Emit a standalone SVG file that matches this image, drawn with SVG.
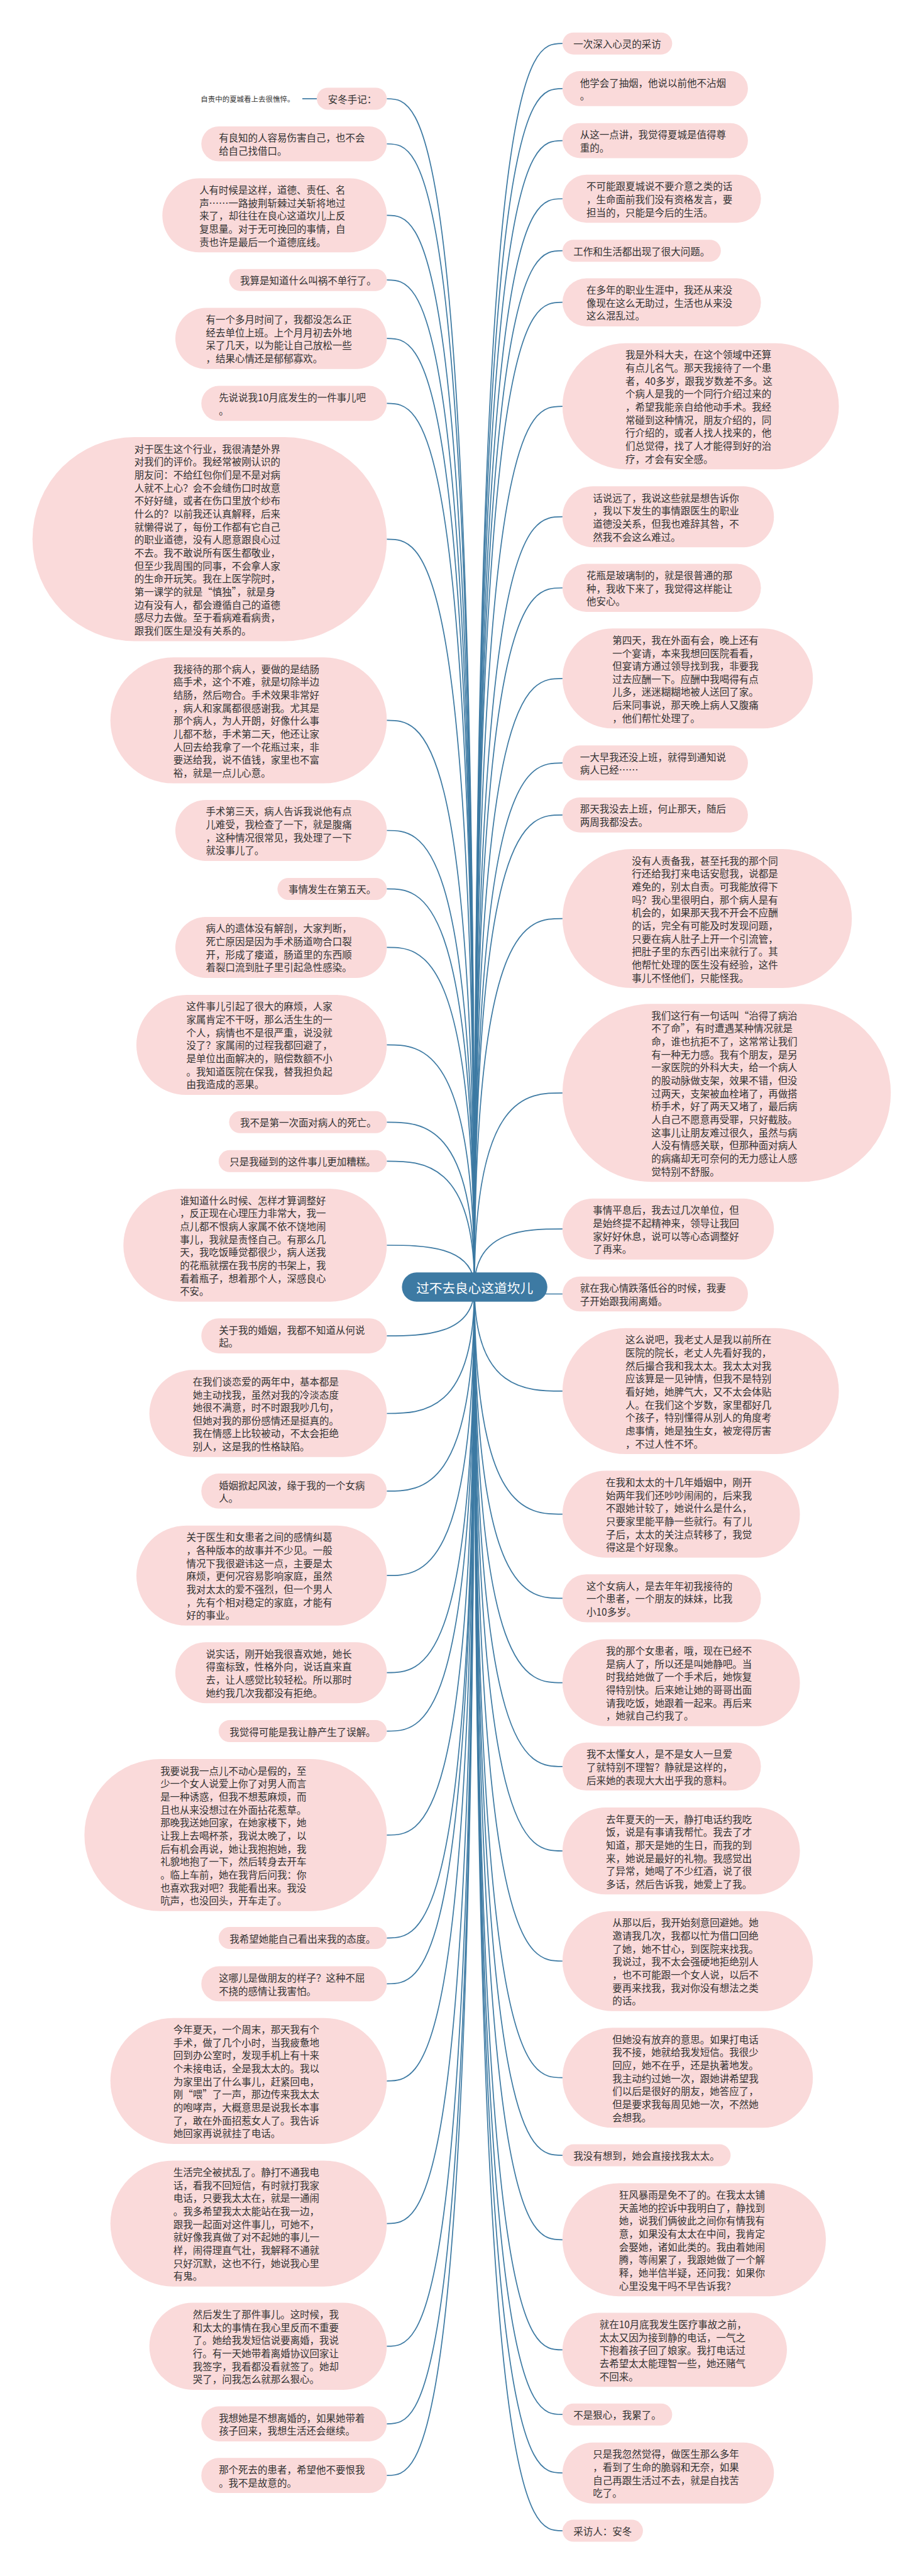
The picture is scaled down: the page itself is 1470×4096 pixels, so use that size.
<svg xmlns="http://www.w3.org/2000/svg" width="1470" height="4096" viewBox="0 0 1470 4096">
<style>
.n{fill:#fadada}
.t{font-family:"Noto Sans CJK SC","Noto Sans",sans-serif;font-size:27px;fill:#333;dominant-baseline:central}
.s{font-family:"Noto Sans CJK SC","Noto Sans",sans-serif;font-size:20px;fill:#333;dominant-baseline:central}
.c{fill:none;stroke:#3d7aa3;stroke-width:3}
.ct{font-family:"Noto Sans CJK SC","Noto Sans",sans-serif;font-size:36px;fill:#fff;dominant-baseline:central}
</style>
<rect width="1470" height="4096" fill="#fff"/>
<g transform="scale(0.574)">
<g id="connectors">
<path class="c" d="M838 273.5H878"/>
<path class="c" d="M1072 273.5C1169 273.5 1315 273.5 1315 3566"/>
<path class="c" d="M1072 398.5C1169 398.5 1315 398.5 1315 3566"/>
<path class="c" d="M1072 596.5C1169 596.5 1315 596.5 1315 3566"/>
<path class="c" d="M1072 775.5C1169 775.5 1315 775.5 1315 3566"/>
<path class="c" d="M1072 937.5C1169 937.5 1315 937.5 1315 3566"/>
<path class="c" d="M1072 1117.5C1169 1117.5 1315 1117.5 1315 3566"/>
<path class="c" d="M1072 1493.5C1169 1493.5 1315 1493.5 1315 3566"/>
<path class="c" d="M1072 1995.5C1169 1995.5 1315 1995.5 1315 3566"/>
<path class="c" d="M1072 2300.5C1169 2300.5 1315 2300.5 1315 3566"/>
<path class="c" d="M1072 2462.5C1169 2462.5 1315 2462.5 1315 3566"/>
<path class="c" d="M1072 2624.5C1169 2624.5 1315 2624.5 1315 3566"/>
<path class="c" d="M1072 2894.5C1169 2894.5 1315 2894.5 1315 3566"/>
<path class="c" d="M1072 3108.5C1169 3108.5 1315 3108.5 1315 3566"/>
<path class="c" d="M1072 3216.5C1169 3216.5 1315 3216.5 1315 3566"/>
<path class="c" d="M1072 3449.5C1169 3449.5 1315 3449.5 1315 3566"/>
<path class="c" d="M1072 3700.5C1169 3700.5 1315 3700.5 1315 3566"/>
<path class="c" d="M1072 3915.5C1169 3915.5 1315 3915.5 1315 3566"/>
<path class="c" d="M1072 4130.5C1169 4130.5 1315 4130.5 1315 3566"/>
<path class="c" d="M1072 4364.5C1169 4364.5 1315 4364.5 1315 3566"/>
<path class="c" d="M1072 4633.5C1169 4633.5 1315 4633.5 1315 3566"/>
<path class="c" d="M1072 4795.5C1169 4795.5 1315 4795.5 1315 3566"/>
<path class="c" d="M1072 5083.5C1169 5083.5 1315 5083.5 1315 3566"/>
<path class="c" d="M1072 5368.5C1169 5368.5 1315 5368.5 1315 3566"/>
<path class="c" d="M1072 5495.5C1169 5495.5 1315 5495.5 1315 3566"/>
<path class="c" d="M1072 5764.5C1169 5764.5 1315 5764.5 1315 3566"/>
<path class="c" d="M1072 6159.5C1169 6159.5 1315 6159.5 1315 3566"/>
<path class="c" d="M1072 6499.5C1169 6499.5 1315 6499.5 1315 3566"/>
<path class="c" d="M1072 6714.5C1169 6714.5 1315 6714.5 1315 3566"/>
<path class="c" d="M1072 6857.5C1169 6857.5 1315 6857.5 1315 3566"/>
<path class="c" d="M1559 120.5C1461 120.5 1315 120.5 1315 3566"/>
<path class="c" d="M1559 245.5C1461 245.5 1315 245.5 1315 3566"/>
<path class="c" d="M1559 389.5C1461 389.5 1315 389.5 1315 3566"/>
<path class="c" d="M1559 550.5C1461 550.5 1315 550.5 1315 3566"/>
<path class="c" d="M1559 694.5C1461 694.5 1315 694.5 1315 3566"/>
<path class="c" d="M1559 837.5C1461 837.5 1315 837.5 1315 3566"/>
<path class="c" d="M1559 1125.5C1461 1125.5 1315 1125.5 1315 3566"/>
<path class="c" d="M1559 1431.5C1461 1431.5 1315 1431.5 1315 3566"/>
<path class="c" d="M1559 1628.5C1461 1628.5 1315 1628.5 1315 3566"/>
<path class="c" d="M1559 1879.5C1461 1879.5 1315 1879.5 1315 3566"/>
<path class="c" d="M1559 2113.5C1461 2113.5 1315 2113.5 1315 3566"/>
<path class="c" d="M1559 2257.5C1461 2257.5 1315 2257.5 1315 3566"/>
<path class="c" d="M1559 2544.5C1461 2544.5 1315 2544.5 1315 3566"/>
<path class="c" d="M1559 3027.5C1461 3027.5 1315 3027.5 1315 3566"/>
<path class="c" d="M1559 3404.5C1461 3404.5 1315 3404.5 1315 3566"/>
<path class="c" d="M1559 3584.5H1315"/>
<path class="c" d="M1559 3853.5C1461 3853.5 1315 3853.5 1315 3566"/>
<path class="c" d="M1559 4194.5C1461 4194.5 1315 4194.5 1315 3566"/>
<path class="c" d="M1559 4427.5C1461 4427.5 1315 4427.5 1315 3566"/>
<path class="c" d="M1559 4661.5C1461 4661.5 1315 4661.5 1315 3566"/>
<path class="c" d="M1559 4893.5C1461 4893.5 1315 4893.5 1315 3566"/>
<path class="c" d="M1559 5127.5C1461 5127.5 1315 5127.5 1315 3566"/>
<path class="c" d="M1559 5432.5C1461 5432.5 1315 5432.5 1315 3566"/>
<path class="c" d="M1559 5755.5C1461 5755.5 1315 5755.5 1315 3566"/>
<path class="c" d="M1559 5970.5C1461 5970.5 1315 5970.5 1315 3566"/>
<path class="c" d="M1559 6204.5C1461 6204.5 1315 6204.5 1315 3566"/>
<path class="c" d="M1559 6509.5C1461 6509.5 1315 6509.5 1315 3566"/>
<path class="c" d="M1559 6688.5C1461 6688.5 1315 6688.5 1315 3566"/>
<path class="c" d="M1559 6850.5C1461 6850.5 1315 6850.5 1315 3566"/>
<path class="c" d="M1559 7010.5C1461 7010.5 1315 7010.5 1315 3566"/>
</g>

<g id="center"><rect x="1114" y="3525" width="403" height="81" rx="40.5" fill="#3d7aa3"/><text class="ct" x="1315.5" y="3566" text-anchor="middle">过不去良心这道坎儿</text></g>

<g id="L0b"><text class="s" x="816" y="273.5" text-anchor="end">自责中的夏城看上去很憔悴。</text></g>
<g id="L0"><rect class="n" x="878" y="243" width="194" height="61" rx="30.5"/><text class="t" x="909" y="273.5">安冬手记：</text></g>
<g id="L1"><rect class="n" x="558" y="350" width="514" height="97" rx="48.5"/><text class="t" y="380.5"><tspan x="606.5">有良知的人容易伤害自己，也不会</tspan><tspan x="606.5" dy="36">给自己找借口。</tspan></text></g>
<g id="L2"><rect class="n" x="450" y="494" width="622" height="205" rx="102.5"/><text class="t" y="524.5"><tspan x="552.5">人有时候是这样，道德、责任、名</tspan><tspan x="552.5" dy="36">声……一路披荆斩棘过关斩将地过</tspan><tspan x="552.5" dy="36">来了，却往往在良心这道坎儿上反</tspan><tspan x="552.5" dy="36">复思量。对于无可挽回的事情，自</tspan><tspan x="552.5" dy="36">责也许是最后一个道德底线。</tspan></text></g>
<g id="L3"><rect class="n" x="635" y="745" width="437" height="61" rx="30.5"/><text class="t" x="665.5" y="775.5">我算是知道什么叫祸不单行了。</text></g>
<g id="L4"><rect class="n" x="486" y="853" width="586" height="169" rx="84.5"/><text class="t" y="883.5"><tspan x="570.5">有一个多月时间了，我都没怎么正</tspan><tspan x="570.5" dy="36">经去单位上班。上个月月初去外地</tspan><tspan x="570.5" dy="36">呆了几天，以为能让自己放松一些</tspan><tspan x="570.5" dy="36">，结果心情还是郁郁寡欢。</tspan></text></g>
<g id="L5"><rect class="n" x="558" y="1069" width="514" height="97" rx="48.5"/><text class="t" y="1099.5"><tspan x="606.5">先说说我10月底发生的一件事儿吧</tspan><tspan x="606.5" dy="36">。</tspan></text></g>
<g id="L6"><rect class="n" x="90" y="1211" width="982" height="565" rx="282.5"/><text class="t" y="1241.5"><tspan x="372.5">对于医生这个行业，我很清楚外界</tspan><tspan x="372.5" dy="36">对我们的评价。我经常被刚认识的</tspan><tspan x="372.5" dy="36">朋友问：不给红包你们是不是对病</tspan><tspan x="372.5" dy="36">人就不上心？会不会缝伤口时故意</tspan><tspan x="372.5" dy="36">不好好缝，或者在伤口里放个纱布</tspan><tspan x="372.5" dy="36">什么的？以前我还认真解释，后来</tspan><tspan x="372.5" dy="36">就懒得说了，每份工作都有它自己</tspan><tspan x="372.5" dy="36">的职业道德，没有人愿意跟良心过</tspan><tspan x="372.5" dy="36">不去。我不敢说所有医生都敬业，</tspan><tspan x="372.5" dy="36">但至少我周围的同事，不会拿人家</tspan><tspan x="372.5" dy="36">的生命开玩笑。我在上医学院时，</tspan><tspan x="372.5" dy="36">第一课学的就是“慎独”，就是身</tspan><tspan x="372.5" dy="36">边有没有人，都会遵循自己的道德</tspan><tspan x="372.5" dy="36">感尽力去做。至于看病难看病贵，</tspan><tspan x="372.5" dy="36">跟我们医生是没有关系的。</tspan></text></g>
<g id="L7"><rect class="n" x="306" y="1821" width="766" height="349" rx="174.5"/><text class="t" y="1851.5"><tspan x="480.5">我接待的那个病人，要做的是结肠</tspan><tspan x="480.5" dy="36">癌手术，这个不难，就是切除半边</tspan><tspan x="480.5" dy="36">结肠，然后吻合。手术效果非常好</tspan><tspan x="480.5" dy="36">，病人和家属都很感谢我。尤其是</tspan><tspan x="480.5" dy="36">那个病人，为人开朗，好像什么事</tspan><tspan x="480.5" dy="36">儿都不愁，手术第二天，他还让家</tspan><tspan x="480.5" dy="36">人回去给我拿了一个花瓶过来，非</tspan><tspan x="480.5" dy="36">要送给我，说不值钱，家里也不富</tspan><tspan x="480.5" dy="36">裕，就是一点儿心意。</tspan></text></g>
<g id="L8"><rect class="n" x="486" y="2216" width="586" height="169" rx="84.5"/><text class="t" y="2246.5"><tspan x="570.5">手术第三天，病人告诉我说他有点</tspan><tspan x="570.5" dy="36">儿难受，我检查了一下，就是腹痛</tspan><tspan x="570.5" dy="36">，这种情况很常见，我处理了一下</tspan><tspan x="570.5" dy="36">就没事儿了。</tspan></text></g>
<g id="L9"><rect class="n" x="769" y="2432" width="303" height="61" rx="30.5"/><text class="t" x="799.5" y="2462.5">事情发生在第五天。</text></g>
<g id="L10"><rect class="n" x="486" y="2540" width="586" height="169" rx="84.5"/><text class="t" y="2570.5"><tspan x="570.5">病人的遗体没有解剖，大家判断，</tspan><tspan x="570.5" dy="36">死亡原因是因为手术肠道吻合口裂</tspan><tspan x="570.5" dy="36">开，形成了瘘道，肠道里的东西顺</tspan><tspan x="570.5" dy="36">着裂口流到肚子里引起急性感染。</tspan></text></g>
<g id="L11"><rect class="n" x="378" y="2756" width="694" height="277" rx="138.5"/><text class="t" y="2786.5"><tspan x="516.5">这件事儿引起了很大的麻烦，人家</tspan><tspan x="516.5" dy="36">家属肯定不干呀，那么活生生的一</tspan><tspan x="516.5" dy="36">个人，病情也不是很严重，说没就</tspan><tspan x="516.5" dy="36">没了？家属闹的过程我都回避了，</tspan><tspan x="516.5" dy="36">是单位出面解决的，赔偿数额不小</tspan><tspan x="516.5" dy="36">。我知道医院在保我，替我担负起</tspan><tspan x="516.5" dy="36">由我造成的恶果。</tspan></text></g>
<g id="L12"><rect class="n" x="635" y="3078" width="437" height="61" rx="30.5"/><text class="t" x="665.5" y="3108.5">我不是第一次面对病人的死亡。</text></g>
<g id="L13"><rect class="n" x="606" y="3186" width="466" height="61" rx="30.5"/><text class="t" x="636.5" y="3216.5">只是我碰到的这件事儿更加糟糕。</text></g>
<g id="L14"><rect class="n" x="342" y="3293" width="730" height="313" rx="156.5"/><text class="t" y="3323.5"><tspan x="498.5">谁知道什么时候、怎样才算调整好</tspan><tspan x="498.5" dy="36">，反正现在心理压力非常大，我一</tspan><tspan x="498.5" dy="36">点儿都不恨病人家属不依不饶地闹</tspan><tspan x="498.5" dy="36">事儿，我就是责怪自己。有那么几</tspan><tspan x="498.5" dy="36">天，我吃饭睡觉都很少，病人送我</tspan><tspan x="498.5" dy="36">的花瓶就摆在我书房的书架上，我</tspan><tspan x="498.5" dy="36">看着瓶子，想着那个人，深感良心</tspan><tspan x="498.5" dy="36">不安。</tspan></text></g>
<g id="L15"><rect class="n" x="558" y="3652" width="514" height="97" rx="48.5"/><text class="t" y="3682.5"><tspan x="606.5">关于我的婚姻，我都不知道从何说</tspan><tspan x="606.5" dy="36">起。</tspan></text></g>
<g id="L16"><rect class="n" x="414" y="3795" width="658" height="241" rx="120.5"/><text class="t" y="3825.5"><tspan x="534.5">在我们谈恋爱的两年中，基本都是</tspan><tspan x="534.5" dy="36">她主动找我，虽然对我的冷淡态度</tspan><tspan x="534.5" dy="36">她很不满意，时不时跟我吵几句，</tspan><tspan x="534.5" dy="36">但她对我的那份感情还是挺真的。</tspan><tspan x="534.5" dy="36">我在情感上比较被动，不太会拒绝</tspan><tspan x="534.5" dy="36">别人，这是我的性格缺陷。</tspan></text></g>
<g id="L17"><rect class="n" x="558" y="4082" width="514" height="97" rx="48.5"/><text class="t" y="4112.5"><tspan x="606.5">婚姻掀起风波，缘于我的一个女病</tspan><tspan x="606.5" dy="36">人。</tspan></text></g>
<g id="L18"><rect class="n" x="378" y="4226" width="694" height="277" rx="138.5"/><text class="t" y="4256.5"><tspan x="516.5">关于医生和女患者之间的感情纠葛</tspan><tspan x="516.5" dy="36">，各种版本的故事并不少见。一般</tspan><tspan x="516.5" dy="36">情况下我很避讳这一点，主要是太</tspan><tspan x="516.5" dy="36">麻烦，更何况容易影响家庭，虽然</tspan><tspan x="516.5" dy="36">我对太太的爱不强烈，但一个男人</tspan><tspan x="516.5" dy="36">，先有个相对稳定的家庭，才能有</tspan><tspan x="516.5" dy="36">好的事业。</tspan></text></g>
<g id="L19"><rect class="n" x="486" y="4549" width="586" height="169" rx="84.5"/><text class="t" y="4579.5"><tspan x="570.5">说实话，刚开始我很喜欢她，她长</tspan><tspan x="570.5" dy="36">得蛮标致，性格外向，说话直来直</tspan><tspan x="570.5" dy="36">去，让人感觉比较轻松。所以那时</tspan><tspan x="570.5" dy="36">她约我几次我都没有拒绝。</tspan></text></g>
<g id="L20"><rect class="n" x="606" y="4765" width="466" height="61" rx="30.5"/><text class="t" x="636.5" y="4795.5">我觉得可能是我让静产生了误解。</text></g>
<g id="L21"><rect class="n" x="234" y="4873" width="838" height="421" rx="210.5"/><text class="t" y="4903.5"><tspan x="444.5">我要说我一点儿不动心是假的，至</tspan><tspan x="444.5" dy="36">少一个女人说爱上你了对男人而言</tspan><tspan x="444.5" dy="36">是一种诱惑，但我不想惹麻烦，而</tspan><tspan x="444.5" dy="36">且也从来没想过在外面拈花惹草。</tspan><tspan x="444.5" dy="36">那晚我送她回家，在她家楼下，她</tspan><tspan x="444.5" dy="36">让我上去喝杯茶，我说太晚了，以</tspan><tspan x="444.5" dy="36">后有机会再说，她让我抱抱她，我</tspan><tspan x="444.5" dy="36">礼貌地抱了一下，然后转身去开车</tspan><tspan x="444.5" dy="36">。临上车前，她在我背后问我：你</tspan><tspan x="444.5" dy="36">也喜欢我对吧？我能看出来。我没</tspan><tspan x="444.5" dy="36">吭声，也没回头，开车走了。</tspan></text></g>
<g id="L22"><rect class="n" x="606" y="5338" width="466" height="61" rx="30.5"/><text class="t" x="636.5" y="5368.5">我希望她能自己看出来我的态度。</text></g>
<g id="L23"><rect class="n" x="558" y="5447" width="514" height="97" rx="48.5"/><text class="t" y="5477.5"><tspan x="606.5">这哪儿是做朋友的样子？这种不屈</tspan><tspan x="606.5" dy="36">不挠的感情让我害怕。</tspan></text></g>
<g id="L24"><rect class="n" x="306" y="5590" width="766" height="349" rx="174.5"/><text class="t" y="5620.5"><tspan x="480.5">今年夏天，一个周末，那天我有个</tspan><tspan x="480.5" dy="36">手术，做了几个小时，当我疲惫地</tspan><tspan x="480.5" dy="36">回到办公室时，发现手机上有十来</tspan><tspan x="480.5" dy="36">个未接电话，全是我太太的。我以</tspan><tspan x="480.5" dy="36">为家里出了什么事儿，赶紧回电，</tspan><tspan x="480.5" dy="36">刚“喂”了一声，那边传来我太太</tspan><tspan x="480.5" dy="36">的咆哮声，大概意思是说我长本事</tspan><tspan x="480.5" dy="36">了，敢在外面招惹女人了。我告诉</tspan><tspan x="480.5" dy="36">她回家再说就挂了电话。</tspan></text></g>
<g id="L25"><rect class="n" x="306" y="5985" width="766" height="349" rx="174.5"/><text class="t" y="6015.5"><tspan x="480.5">生活完全被扰乱了。静打不通我电</tspan><tspan x="480.5" dy="36">话，看我不回短信，有时就打我家</tspan><tspan x="480.5" dy="36">电话，只要我太太在，就是一通闹</tspan><tspan x="480.5" dy="36">。我多希望我太太能站在我一边，</tspan><tspan x="480.5" dy="36">跟我一起面对这件事儿，可她不，</tspan><tspan x="480.5" dy="36">就好像我真做了对不起她的事儿一</tspan><tspan x="480.5" dy="36">样，闹得理直气壮，我解释不通就</tspan><tspan x="480.5" dy="36">只好沉默，这也不行，她说我心里</tspan><tspan x="480.5" dy="36">有鬼。</tspan></text></g>
<g id="L26"><rect class="n" x="414" y="6379" width="658" height="241" rx="120.5"/><text class="t" y="6409.5"><tspan x="534.5">然后发生了那件事儿。这时候，我</tspan><tspan x="534.5" dy="36">和太太的事情在我心里反而不重要</tspan><tspan x="534.5" dy="36">了。她给我发短信说要离婚，我说</tspan><tspan x="534.5" dy="36">行。有一天她带着离婚协议回家让</tspan><tspan x="534.5" dy="36">我签字，我看都没看就签了。她却</tspan><tspan x="534.5" dy="36">哭了，问我怎么就那么狠心。</tspan></text></g>
<g id="L27"><rect class="n" x="558" y="6666" width="514" height="97" rx="48.5"/><text class="t" y="6696.5"><tspan x="606.5">我想她是不想离婚的，如果她带着</tspan><tspan x="606.5" dy="36">孩子回来，我想生活还会继续。</tspan></text></g>
<g id="L28"><rect class="n" x="558" y="6809" width="514" height="97" rx="48.5"/><text class="t" y="6839.5"><tspan x="606.5">那个死去的患者，希望他不要恨我</tspan><tspan x="606.5" dy="36">。我不是故意的。</tspan></text></g>

<g id="R1"><rect class="n" x="1559" y="90" width="304" height="61" rx="30.5"/><text class="t" x="1589.5" y="120.5">一次深入心灵的采访</text></g>
<g id="R2"><rect class="n" x="1559" y="197" width="514" height="97" rx="48.5"/><text class="t" y="227.5"><tspan x="1607.5">他学会了抽烟，他说以前他不沾烟</tspan><tspan x="1607.5" dy="36">。</tspan></text></g>
<g id="R3"><rect class="n" x="1559" y="341" width="514" height="97" rx="48.5"/><text class="t" y="371.5"><tspan x="1607.5">从这一点讲，我觉得夏城是值得尊</tspan><tspan x="1607.5" dy="36">重的。</tspan></text></g>
<g id="R4"><rect class="n" x="1559" y="484" width="550" height="133" rx="66.5"/><text class="t" y="514.5"><tspan x="1625.5">不可能跟夏城说不要介意之类的话</tspan><tspan x="1625.5" dy="36">，生命面前我们没有资格发言，要</tspan><tspan x="1625.5" dy="36">担当的，只能是今后的生活。</tspan></text></g>
<g id="R5"><rect class="n" x="1559" y="664" width="439" height="61" rx="30.5"/><text class="t" x="1589.5" y="694.5">工作和生活都出现了很大问题。</text></g>
<g id="R6"><rect class="n" x="1559" y="771" width="550" height="133" rx="66.5"/><text class="t" y="801.5"><tspan x="1625.5">在多年的职业生涯中，我还从来没</tspan><tspan x="1625.5" dy="36">像现在这么无助过，生活也从来没</tspan><tspan x="1625.5" dy="36">这么混乱过。</tspan></text></g>
<g id="R7"><rect class="n" x="1559" y="951" width="766" height="349" rx="174.5"/><text class="t" y="981.5"><tspan x="1733.5">我是外科大夫，在这个领域中还算</tspan><tspan x="1733.5" dy="36">有点儿名气。那天我接待了一个患</tspan><tspan x="1733.5" dy="36">者，40多岁，跟我岁数差不多。这</tspan><tspan x="1733.5" dy="36">个病人是我的一个同行介绍过来的</tspan><tspan x="1733.5" dy="36">，希望我能亲自给他动手术。我经</tspan><tspan x="1733.5" dy="36">常碰到这种情况，朋友介绍的，同</tspan><tspan x="1733.5" dy="36">行介绍的，或者人找人找来的，他</tspan><tspan x="1733.5" dy="36">们总觉得，找了人才能得到好的治</tspan><tspan x="1733.5" dy="36">疗，才会有安全感。</tspan></text></g>
<g id="R8"><rect class="n" x="1559" y="1347" width="586" height="169" rx="84.5"/><text class="t" y="1377.5"><tspan x="1643.5">话说远了，我说这些就是想告诉你</tspan><tspan x="1643.5" dy="36">，我以下发生的事情跟医生的职业</tspan><tspan x="1643.5" dy="36">道德没关系，但我也难辞其咎，不</tspan><tspan x="1643.5" dy="36">然我不会这么难过。</tspan></text></g>
<g id="R9"><rect class="n" x="1559" y="1562" width="550" height="133" rx="66.5"/><text class="t" y="1592.5"><tspan x="1625.5">花瓶是玻璃制的，就是很普通的那</tspan><tspan x="1625.5" dy="36">种，我收下来了，我觉得这样能让</tspan><tspan x="1625.5" dy="36">他安心。</tspan></text></g>
<g id="R10"><rect class="n" x="1559" y="1741" width="694" height="277" rx="138.5"/><text class="t" y="1771.5"><tspan x="1697.5">第四天，我在外面有会，晚上还有</tspan><tspan x="1697.5" dy="36">一个宴请，本来我想回医院看看，</tspan><tspan x="1697.5" dy="36">但宴请方通过领导找到我，非要我</tspan><tspan x="1697.5" dy="36">过去应酬一下。应酬中我喝得有点</tspan><tspan x="1697.5" dy="36">儿多，迷迷糊糊地被人送回了家。</tspan><tspan x="1697.5" dy="36">后来同事说，那天晚上病人又腹痛</tspan><tspan x="1697.5" dy="36">，他们帮忙处理了。</tspan></text></g>
<g id="R11"><rect class="n" x="1559" y="2065" width="514" height="97" rx="48.5"/><text class="t" y="2095.5"><tspan x="1607.5">一大早我还没上班，就得到通知说</tspan><tspan x="1607.5" dy="36">病人已经……</tspan></text></g>
<g id="R12"><rect class="n" x="1559" y="2209" width="514" height="97" rx="48.5"/><text class="t" y="2239.5"><tspan x="1607.5">那天我没去上班，何止那天，随后</tspan><tspan x="1607.5" dy="36">两周我都没去。</tspan></text></g>
<g id="R13"><rect class="n" x="1559" y="2352" width="802" height="385" rx="192.5"/><text class="t" y="2382.5"><tspan x="1751.5">没有人责备我，甚至托我的那个同</tspan><tspan x="1751.5" dy="36">行还给我打来电话安慰我，说都是</tspan><tspan x="1751.5" dy="36">难免的，别太自责。可我能放得下</tspan><tspan x="1751.5" dy="36">吗？我心里很明白，那个病人是有</tspan><tspan x="1751.5" dy="36">机会的，如果那天我不开会不应酬</tspan><tspan x="1751.5" dy="36">的话，完全有可能及时发现问题，</tspan><tspan x="1751.5" dy="36">只要在病人肚子上开一个引流管，</tspan><tspan x="1751.5" dy="36">把肚子里的东西引出来就行了。其</tspan><tspan x="1751.5" dy="36">他帮忙处理的医生没有经验，这件</tspan><tspan x="1751.5" dy="36">事儿不怪他们，只能怪我。</tspan></text></g>
<g id="R14"><rect class="n" x="1559" y="2781" width="910" height="493" rx="246.5"/><text class="t" y="2811.5"><tspan x="1805.5">我们这行有一句话叫“治得了病治</tspan><tspan x="1805.5" dy="36">不了命”，有时遭遇某种情况就是</tspan><tspan x="1805.5" dy="36">命，谁也抗拒不了，这常常让我们</tspan><tspan x="1805.5" dy="36">有一种无力感。我有个朋友，是另</tspan><tspan x="1805.5" dy="36">一家医院的外科大夫，给一个病人</tspan><tspan x="1805.5" dy="36">的股动脉做支架，效果不错，但没</tspan><tspan x="1805.5" dy="36">过两天，支架被血栓堵了，再做搭</tspan><tspan x="1805.5" dy="36">桥手术，好了两天又堵了，最后病</tspan><tspan x="1805.5" dy="36">人自己不愿意再受罪，只好截肢。</tspan><tspan x="1805.5" dy="36">这事儿让朋友难过很久，虽然与病</tspan><tspan x="1805.5" dy="36">人没有情感关联，但那种面对病人</tspan><tspan x="1805.5" dy="36">的病痛却无可奈何的无力感让人感</tspan><tspan x="1805.5" dy="36">觉特别不舒服。</tspan></text></g>
<g id="R15"><rect class="n" x="1559" y="3320" width="586" height="169" rx="84.5"/><text class="t" y="3350.5"><tspan x="1643.5">事情平息后，我去过几次单位，但</tspan><tspan x="1643.5" dy="36">是始终提不起精神来，领导让我回</tspan><tspan x="1643.5" dy="36">家好好休息，说可以等心态调整好</tspan><tspan x="1643.5" dy="36">了再来。</tspan></text></g>
<g id="R16"><rect class="n" x="1559" y="3536" width="514" height="97" rx="48.5"/><text class="t" y="3566.5"><tspan x="1607.5">就在我心情跌落低谷的时候，我妻</tspan><tspan x="1607.5" dy="36">子开始跟我闹离婚。</tspan></text></g>
<g id="R17"><rect class="n" x="1559" y="3679" width="766" height="349" rx="174.5"/><text class="t" y="3709.5"><tspan x="1733.5">这么说吧，我老丈人是我以前所在</tspan><tspan x="1733.5" dy="36">医院的院长，老丈人先看好我的，</tspan><tspan x="1733.5" dy="36">然后撮合我和我太太。我太太对我</tspan><tspan x="1733.5" dy="36">应该算是一见钟情，但我不是特别</tspan><tspan x="1733.5" dy="36">看好她，她脾气大，又不太会体贴</tspan><tspan x="1733.5" dy="36">人。在我们这个岁数，家里都好几</tspan><tspan x="1733.5" dy="36">个孩子，特别懂得从别人的角度考</tspan><tspan x="1733.5" dy="36">虑事情，她是独生女，被宠得厉害</tspan><tspan x="1733.5" dy="36">，不过人性不坏。</tspan></text></g>
<g id="R18"><rect class="n" x="1559" y="4074" width="658" height="241" rx="120.5"/><text class="t" y="4104.5"><tspan x="1679.5">在我和太太的十几年婚姻中，刚开</tspan><tspan x="1679.5" dy="36">始两年我们还吵吵闹闹的，后来我</tspan><tspan x="1679.5" dy="36">不跟她计较了，她说什么是什么，</tspan><tspan x="1679.5" dy="36">只要家里能平静一些就行。有了儿</tspan><tspan x="1679.5" dy="36">子后，太太的关注点转移了，我觉</tspan><tspan x="1679.5" dy="36">得这是个好现象。</tspan></text></g>
<g id="R19"><rect class="n" x="1559" y="4361" width="550" height="133" rx="66.5"/><text class="t" y="4391.5"><tspan x="1625.5">这个女病人，是去年年初我接待的</tspan><tspan x="1625.5" dy="36">一个患者，一个朋友的妹妹，比我</tspan><tspan x="1625.5" dy="36">小10多岁。</tspan></text></g>
<g id="R20"><rect class="n" x="1559" y="4541" width="658" height="241" rx="120.5"/><text class="t" y="4571.5"><tspan x="1679.5">我的那个女患者，哦，现在已经不</tspan><tspan x="1679.5" dy="36">是病人了，所以还是叫她静吧。当</tspan><tspan x="1679.5" dy="36">时我给她做了一个手术后，她恢复</tspan><tspan x="1679.5" dy="36">得特别快。后来她让她的哥哥出面</tspan><tspan x="1679.5" dy="36">请我吃饭，她跟着一起来。再后来</tspan><tspan x="1679.5" dy="36">，她就自己约我了。</tspan></text></g>
<g id="R21"><rect class="n" x="1559" y="4827" width="550" height="133" rx="66.5"/><text class="t" y="4857.5"><tspan x="1625.5">我不太懂女人，是不是女人一旦爱</tspan><tspan x="1625.5" dy="36">了就特别不理智？静就是这样的，</tspan><tspan x="1625.5" dy="36">后来她的表现大大出乎我的意料。</tspan></text></g>
<g id="R22"><rect class="n" x="1559" y="5007" width="658" height="241" rx="120.5"/><text class="t" y="5037.5"><tspan x="1679.5">去年夏天的一天，静打电话约我吃</tspan><tspan x="1679.5" dy="36">饭，说是有事请我帮忙。我去了才</tspan><tspan x="1679.5" dy="36">知道，那天是她的生日，而我的到</tspan><tspan x="1679.5" dy="36">来，她说是最好的礼物。我感觉出</tspan><tspan x="1679.5" dy="36">了异常，她喝了不少红酒，说了很</tspan><tspan x="1679.5" dy="36">多话，然后告诉我，她爱上了我。</tspan></text></g>
<g id="R23"><rect class="n" x="1559" y="5294" width="694" height="277" rx="138.5"/><text class="t" y="5324.5"><tspan x="1697.5">从那以后，我开始刻意回避她。她</tspan><tspan x="1697.5" dy="36">邀请我几次，我都以忙为借口回绝</tspan><tspan x="1697.5" dy="36">了她，她不甘心，到医院来找我。</tspan><tspan x="1697.5" dy="36">我说过，我不太会强硬地拒绝别人</tspan><tspan x="1697.5" dy="36">，也不可能跟一个女人说，以后不</tspan><tspan x="1697.5" dy="36">要再来找我，我对你没有想法之类</tspan><tspan x="1697.5" dy="36">的话。</tspan></text></g>
<g id="R24"><rect class="n" x="1559" y="5617" width="694" height="277" rx="138.5"/><text class="t" y="5647.5"><tspan x="1697.5">但她没有放弃的意思。如果打电话</tspan><tspan x="1697.5" dy="36">我不接，她就给我发短信。我很少</tspan><tspan x="1697.5" dy="36">回应，她不在乎，还是执著地发。</tspan><tspan x="1697.5" dy="36">我主动约过她一次，跟她讲希望我</tspan><tspan x="1697.5" dy="36">们以后是很好的朋友，她答应了，</tspan><tspan x="1697.5" dy="36">但是要求我每周见她一次，不然她</tspan><tspan x="1697.5" dy="36">会想我。</tspan></text></g>
<g id="R25"><rect class="n" x="1559" y="5940" width="466" height="61" rx="30.5"/><text class="t" x="1589.5" y="5970.5">我没有想到，她会直接找我太太。</text></g>
<g id="R26"><rect class="n" x="1559" y="6048" width="730" height="313" rx="156.5"/><text class="t" y="6078.5"><tspan x="1715.5">狂风暴雨是免不了的。在我太太铺</tspan><tspan x="1715.5" dy="36">天盖地的控诉中我明白了，静找到</tspan><tspan x="1715.5" dy="36">她，说我们俩彼此之间你有情我有</tspan><tspan x="1715.5" dy="36">意，如果没有太太在中间，我肯定</tspan><tspan x="1715.5" dy="36">会娶她，诸如此类的。我由着她闹</tspan><tspan x="1715.5" dy="36">腾，等闹累了，我跟她做了一个解</tspan><tspan x="1715.5" dy="36">释，她半信半疑，还问我：如果你</tspan><tspan x="1715.5" dy="36">心里没鬼干吗不早告诉我？</tspan></text></g>
<g id="R27"><rect class="n" x="1559" y="6407" width="622" height="205" rx="102.5"/><text class="t" y="6437.5"><tspan x="1661.5">就在10月底我发生医疗事故之前，</tspan><tspan x="1661.5" dy="36">太太又因为接到静的电话，一气之</tspan><tspan x="1661.5" dy="36">下抱着孩子回了娘家。我打电话过</tspan><tspan x="1661.5" dy="36">去希望太太能理智一些，她还赌气</tspan><tspan x="1661.5" dy="36">不回来。</tspan></text></g>
<g id="R28"><rect class="n" x="1559" y="6658" width="304" height="61" rx="30.5"/><text class="t" x="1589.5" y="6688.5">不是狠心，我累了。</text></g>
<g id="R29"><rect class="n" x="1559" y="6766" width="586" height="169" rx="84.5"/><text class="t" y="6796.5"><tspan x="1643.5">只是我忽然觉得，做医生那么多年</tspan><tspan x="1643.5" dy="36">，看到了生命的脆弱和无奈，如果</tspan><tspan x="1643.5" dy="36">自己再跟生活过不去，就是自找苦</tspan><tspan x="1643.5" dy="36">吃了。</tspan></text></g>
<g id="R30"><rect class="n" x="1559" y="6980" width="223" height="61" rx="30.5"/><text class="t" x="1589.5" y="7010.5">采访人：安冬</text></g>
</g>
</svg>
